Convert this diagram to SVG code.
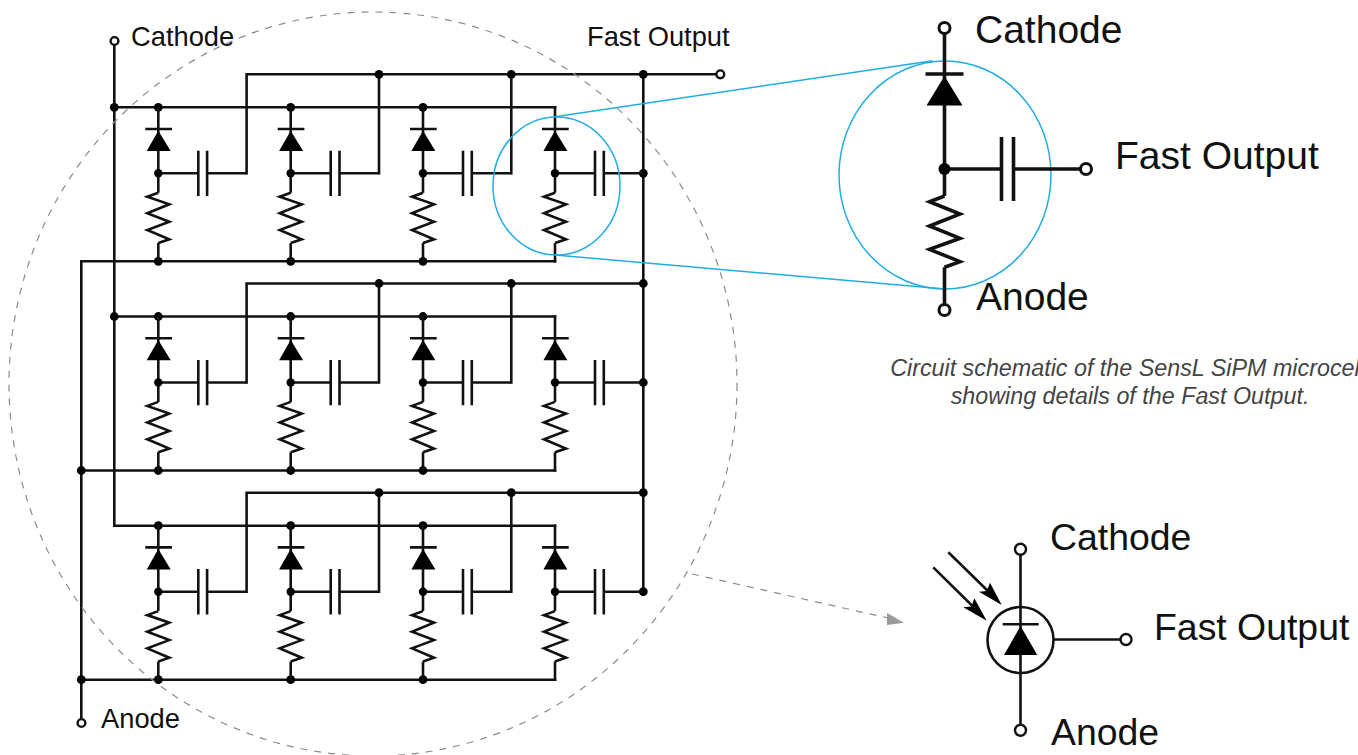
<svg xmlns="http://www.w3.org/2000/svg" width="1358" height="755" viewBox="0 0 1358 755">
<style>
text{font-family:"Liberation Sans",Arial,sans-serif;fill:#111}
.w{fill:none;stroke:#111;stroke-width:2.6}
.wb{fill:none;stroke:#111;stroke-width:3.6}
#connectors path{stroke-linecap:square}
.f{fill:#000}
.t{fill:#fff;stroke:#111;stroke-width:2.4}
.tb{fill:#fff;stroke:#111;stroke-width:3}
.blue{fill:none;stroke:#1fade4;stroke-width:1.5}
.gray{fill:none;stroke:#8c8c8c;stroke-width:1.2;stroke-dasharray:7 7}
.sm{font-size:27.3px}
.lg{font-size:39px}
.md{font-size:37.4px}
.cap{font-size:23.3px;font-style:italic;fill:#444;text-anchor:middle}
</style>
<defs>
<g id="cell">
<path class="w" d="M0 -1.300V85.400M0 135.700V155.300M0 66H40M48.800 66H88.300M-13 21.700H13.700M40 43.400V88.700M48.800 43.400V88.700"/>
<path class="f" d="M0 23.400L12.400 43.700H-11.600Z"/>
<circle class="f" cx="0" cy="66" r="4.200"/>
<path class="w" d="M0 85.400L-11 89.400L11 97L-11 106L11 114.400L-11 122.700L11 132L0 135.700"/>
</g>
<circle id="dot" class="f" r="4.400"/>
</defs>

<g id="connectors">
<path class="w" d="M114.300 45V525.700H555M114.300 107.300H555M114.300 316.500H555"/>
<path class="w" d="M81.300 718.500V261.300H555M81.300 470.500H555M81.300 679.700H555"/>
<path class="w" d="M246.600 173.300V74.300H716M246.600 382.500V283.500H643.300M246.600 591.700V492.700H643.300M643.300 74.300V591.700"/>
<path class="w" d="M379 173.300V74.300M511.300 173.300V74.300M379 382.500V283.500M511.300 382.500V283.500M379 591.700V492.700M511.300 591.700V492.700"/>
</g>

<g id="junctions">
<use href="#dot" x="114.300" y="107.300"/><use href="#dot" x="114.300" y="316.500"/>
<use href="#dot" x="81.300" y="470.500"/><use href="#dot" x="81.300" y="679.700"/>
<use href="#dot" x="158.300" y="107.300"/><use href="#dot" x="290.700" y="107.300"/><use href="#dot" x="423" y="107.300"/>
<use href="#dot" x="158.300" y="316.500"/><use href="#dot" x="290.700" y="316.500"/><use href="#dot" x="423" y="316.500"/>
<use href="#dot" x="158.300" y="525.700"/><use href="#dot" x="290.700" y="525.700"/><use href="#dot" x="423" y="525.700"/>
<use href="#dot" x="158.300" y="261.300"/><use href="#dot" x="290.700" y="261.300"/><use href="#dot" x="423" y="261.300"/>
<use href="#dot" x="158.300" y="470.500"/><use href="#dot" x="290.700" y="470.500"/><use href="#dot" x="423" y="470.500"/>
<use href="#dot" x="158.300" y="679.700"/><use href="#dot" x="290.700" y="679.700"/><use href="#dot" x="423" y="679.700"/>
<use href="#dot" x="379" y="74.300"/><use href="#dot" x="511.300" y="74.300"/><use href="#dot" x="643.300" y="74.300"/>
<use href="#dot" x="379" y="283.500"/><use href="#dot" x="511.300" y="283.500"/><use href="#dot" x="643.300" y="283.500"/>
<use href="#dot" x="379" y="492.700"/><use href="#dot" x="511.300" y="492.700"/><use href="#dot" x="643.300" y="492.700"/>
<use href="#dot" x="643.300" y="173.300"/><use href="#dot" x="643.300" y="382.500"/><use href="#dot" x="643.300" y="591.700"/>
</g>

<g id="cell-r1c1"><use href="#cell" x="158.300" y="107.300"/></g>
<g id="cell-r1c2"><use href="#cell" x="290.700" y="107.300"/></g>
<g id="cell-r1c3"><use href="#cell" x="423" y="107.300"/></g>
<g id="cell-r1c4"><use href="#cell" x="555" y="107.300"/></g>
<g id="cell-r2c1"><use href="#cell" x="158.300" y="316.500"/></g>
<g id="cell-r2c2"><use href="#cell" x="290.700" y="316.500"/></g>
<g id="cell-r2c3"><use href="#cell" x="423" y="316.500"/></g>
<g id="cell-r2c4"><use href="#cell" x="555" y="316.500"/></g>
<g id="cell-r3c1"><use href="#cell" x="158.300" y="525.700"/></g>
<g id="cell-r3c2"><use href="#cell" x="290.700" y="525.700"/></g>
<g id="cell-r3c3"><use href="#cell" x="423" y="525.700"/></g>
<g id="cell-r3c4"><use href="#cell" x="555" y="525.700"/></g>

<g id="term-cathode"><circle class="t" cx="114.500" cy="41" r="3.900"/><text class="sm" x="131" y="46">Cathode</text></g>
<g id="term-fast"><circle class="t" cx="720.300" cy="74.300" r="3.900"/><text class="sm" x="587" y="46">Fast Output</text></g>
<g id="term-anode"><circle class="t" cx="81.500" cy="723" r="3.900"/><text class="sm" x="101" y="728">Anode</text></g>

<g id="overview-ring"><ellipse class="gray" cx="373" cy="384" rx="364" ry="372"/></g>
<g id="zoom-link">
<ellipse class="blue" cx="556.500" cy="186" rx="63.500" ry="69"/>
<path class="blue" d="M555 116.700L932.700 60.700M555 255L945 289"/>
<ellipse class="blue" cx="945" cy="175" rx="106" ry="114"/>
</g>

<g id="detail">
<path class="wb" d="M944.500 34V196M944.500 267.300V305M944.500 169H1001.500M1013.500 169H1080M925.500 74H963.500M1001.500 137V201M1013.500 137V201"/>
<path class="f" d="M944.500 76L962.500 105.500H926.500Z"/>
<path class="wb" d="M944.500 196L929.500 201.700L960 214L929.500 226L960 238.300L929.500 249.300L960 261.700L944.500 267.300"/>
<circle class="f" cx="944.500" cy="169" r="6"/>
<circle class="tb" cx="944.500" cy="28" r="5.500"/>
<circle class="tb" cx="944.500" cy="310" r="5.500"/>
<circle class="tb" cx="1086" cy="169" r="5.500"/>
<text class="lg" x="975" y="43">Cathode</text>
<text class="lg" x="1115" y="169">Fast Output</text>
<text class="lg" x="976" y="310">Anode</text>
</g>

<g id="caption">
<text class="cap" x="1127.500" y="375.500">Circuit schematic of the SensL SiPM microcell</text>
<text class="cap" x="1130" y="403.500">showing details of the Fast Output.</text>
</g>

<g id="pointer">
<path class="gray" d="M692 574L888 618"/>
<path d="M887 613L904 622.700L887 625Z" fill="#9a9a9a"/>
</g>

<g id="symbol">
<path class="w" d="M1020.500 555V724.500M1054 639.500H1120M1002.700 624.300H1038.700"/>
<circle cx="1020.500" cy="640" r="33" fill="none" stroke="#111" stroke-width="2.600"/>
<path class="f" d="M1020.500 626L1037.300 655H1004Z"/>
<circle class="t" cx="1020.500" cy="549.300" r="5.500"/>
<circle class="t" cx="1020.500" cy="730.300" r="5.500"/>
<circle class="t" cx="1126" cy="639.500" r="5.500"/>
<path class="w" d="M948.300 552.300L990 593M933.300 567.300L975 608.500"/>
<path class="f" d="M1001.700 605L979 591.700L986.700 591L990 582.700Z"/>
<path class="f" d="M986.700 620.700L963.300 607.300L971.500 606.500L974.300 598.300Z"/>
<text class="md" x="1050" y="550">Cathode</text>
<text class="md" x="1154" y="640">Fast Output</text>
<text class="md" x="1051" y="745">Anode</text>
</g>
</svg>
